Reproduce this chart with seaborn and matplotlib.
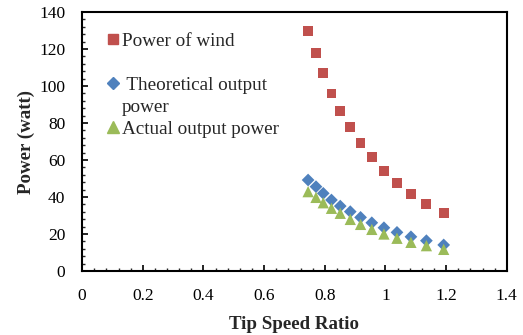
import matplotlib
matplotlib.use('Agg')
import matplotlib.pyplot as plt
from matplotlib.lines import Line2D
from matplotlib.ticker import MultipleLocator
import seaborn as sns
import pandas as pd

tsr = [0.745, 0.771, 0.795, 0.822, 0.851, 0.884, 0.918, 0.955, 0.995, 1.038, 1.084, 1.135, 1.192]
wind_power = [129.7, 117.7, 106.9, 96.0, 86.7, 77.8, 69.4, 61.5, 54.2, 47.7, 41.6, 36.2, 31.5]
theoretical_power = [49.2, 45.6, 42.0, 38.4, 35.1, 32.1, 29.0, 26.1, 23.4, 20.9, 18.5, 16.4, 14.1]
actual_power = [42.9, 39.8, 36.9, 33.9, 31.2, 27.9, 25.2, 22.5, 20.0, 17.7, 15.5, 13.7, 11.7]

series_names = ["Power of wind", "Theoretical output", "Actual output power"]

df = pd.concat([
    pd.DataFrame({"tsr": tsr, "power": wind_power, "series": series_names[0]}),
    pd.DataFrame({"tsr": tsr, "power": theoretical_power, "series": series_names[1]}),
    pd.DataFrame({"tsr": tsr, "power": actual_power, "series": series_names[2]}),
])

sns.set_style("ticks")
plt.rcParams['font.family'] = ['Liberation Serif', 'DejaVu Serif']

colors = {series_names[0]: "#C0504D", series_names[1]: "#4F81BD", series_names[2]: "#9BBB59"}
markers = {series_names[0]: "s", series_names[1]: "D", series_names[2]: "^"}
sizes = {series_names[0]: 50, series_names[1]: 42, series_names[2]: 66}

fig, ax = plt.subplots(figsize=(5.23, 3.35), dpi=100)
fig.subplots_adjust(left=0.157, right=0.969, bottom=0.191, top=0.964)

for i, name in enumerate(series_names):
    sub = df[df["series"] == name]
    sns.scatterplot(x="tsr", y="power", data=sub, ax=ax, color=colors[name],
                    marker=markers[name], s=sizes[name], edgecolor="none",
                    linewidth=0, zorder=3 + i)

ax.set_xlim(0, 1.4)
ax.set_ylim(0, 140)
ax.xaxis.set_minor_locator(MultipleLocator(0.04))
ax.yaxis.set_major_locator(MultipleLocator(20))
ax.yaxis.set_minor_locator(MultipleLocator(4))
ax.set_xticks([0, 0.2, 0.4, 0.6, 0.8, 1.0, 1.2, 1.4])
ax.set_xticklabels(["0", "0.2", "0.4", "0.6", "0.8", "1", "1.2", "1.4"])
ax.tick_params(which="major", direction="in", length=4, width=1.2, pad=12,
               labelsize=12.5, colors="black", top=False, right=False)
ax.tick_params(which="minor", direction="in", length=2.5, width=1, top=False, right=False)
for sp in ax.spines.values():
    sp.set_linewidth(1.5)
    sp.set_color("black")

ax.set_xlabel("Tip Speed Ratio", fontsize=13.6, fontweight="bold", labelpad=9)
ax.set_ylabel("Power (watt)", fontsize=13.6, fontweight="bold", labelpad=3)

def handle(name):
    return Line2D([], [], linestyle="none", marker=markers[name], color=colors[name],
                  markersize=6.5 if markers[name] != "^" else 8.5)

blank = Line2D([], [], linestyle="none")
ax.legend([handle(series_names[0]), blank, handle(series_names[1]), blank, handle(series_names[2])],
          ["Power of wind", "", " Theoretical output", "power", "Actual output power"],
          loc="upper left", bbox_to_anchor=(0.04, 0.952), frameon=False, fontsize=13.8,
          handlelength=0.7, handletextpad=0.1, labelspacing=0.24, borderaxespad=0)

plt.savefig("out.png", dpi=100)
plt.close()
